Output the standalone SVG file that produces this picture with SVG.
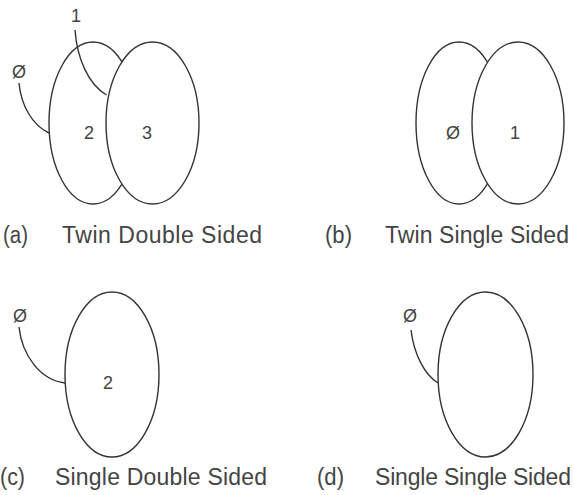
<svg xmlns="http://www.w3.org/2000/svg" width="574" height="495" viewBox="0 0 574 495">
<style>
.disk{fill:#fff;stroke:#333;stroke-width:1.4}
.lead{fill:none;stroke:#333;stroke-width:1.4}
.lbl{font-family:"Liberation Sans",Arial,sans-serif;font-size:18px;fill:#444;text-anchor:middle}
.cap{font-family:"Liberation Sans",Arial,sans-serif;font-size:23px;fill:#444}
</style>
<rect width="574" height="495" fill="#fff"/>
<g id="a">
<ellipse class="disk" cx="93" cy="123" rx="44" ry="81"/>
<ellipse class="disk" cx="152.5" cy="123" rx="46.5" ry="81"/>
<text class="lbl" x="89" y="139">2</text>
<text class="lbl" x="147" y="139">3</text>
<text class="lbl" x="76" y="22">1</text>
<text class="lbl" x="19" y="77.5">Ø</text>
<text class="cap" x="3" y="243" textLength="25" lengthAdjust="spacingAndGlyphs">(a)</text>
<text class="cap" x="62" y="243" textLength="200">Twin Double Sided</text>
</g>
<g id="b">
<ellipse class="disk" cx="459" cy="123" rx="43" ry="81"/>
<ellipse class="disk" cx="518" cy="123" rx="46" ry="81"/>
<text class="lbl" x="453" y="139">Ø</text>
<text class="lbl" x="515" y="139">1</text>
<text class="cap" x="325" y="243" textLength="27" lengthAdjust="spacingAndGlyphs">(b)</text>
<text class="cap" x="385" y="243" textLength="184">Twin Single Sided</text>
</g>
<g id="c">
<ellipse class="disk" cx="112" cy="374.5" rx="47" ry="82.5"/>
<text class="lbl" x="108" y="389">2</text>
<text class="lbl" x="20" y="321.5">Ø</text>
<text class="cap" x="0" y="485" textLength="25" lengthAdjust="spacingAndGlyphs">(c)</text>
<text class="cap" x="55" y="485" textLength="212">Single Double Sided</text>
</g>
<g id="d">
<ellipse class="disk" cx="485.5" cy="374.5" rx="47.5" ry="82.5"/>
<text class="lbl" x="410" y="321.5">Ø</text>
<text class="cap" x="317" y="485" textLength="27" lengthAdjust="spacingAndGlyphs">(d)</text>
<text class="cap" x="375" y="485" textLength="196">Single Single Sided</text>
</g>
<g id="connectors">
<path class="lead" d="M75,30 C77,58 88,84 106.5,95"/>
<path class="lead" d="M19,83 C21,105 32,125 49,133"/>
<path class="lead" d="M19,327 C22,355 40,380 65,383"/>
<path class="lead" d="M411,330 C414,355 425,375 438,383"/>
</g>
</svg>
